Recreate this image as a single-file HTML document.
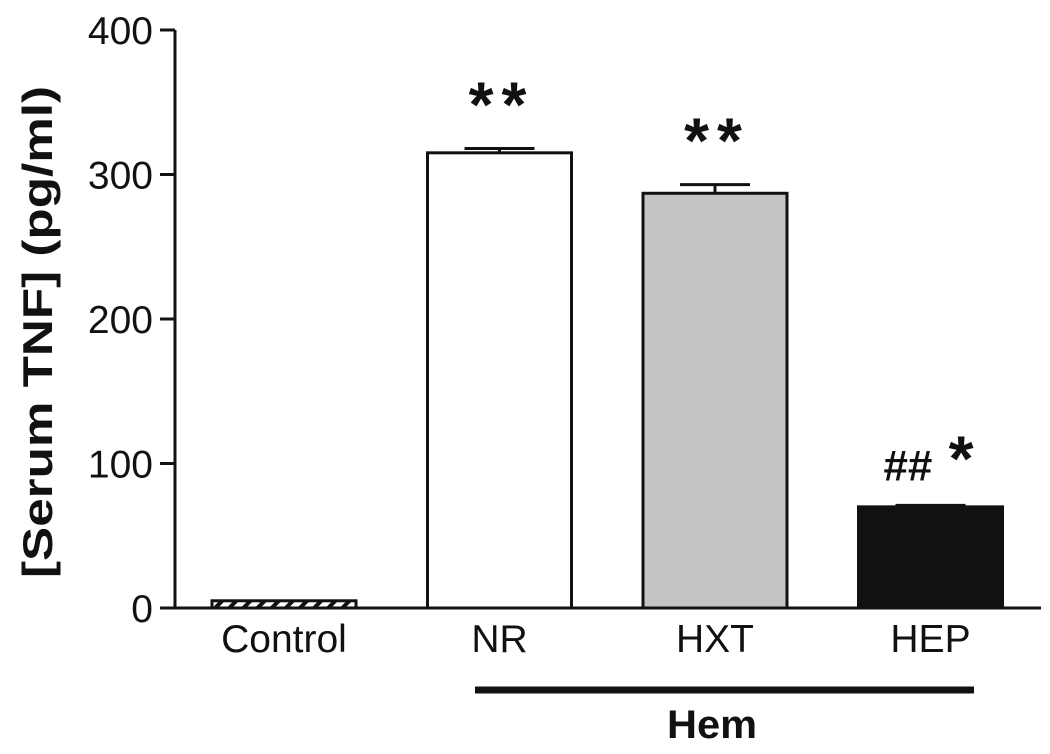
<!DOCTYPE html>
<html><head><meta charset="utf-8"><style>
body{margin:0;background:#fff}
svg{display:block;font-family:"Liberation Sans",Arial,sans-serif}
</style></head><body>
<svg width="1050" height="754" viewBox="0 0 1050 754">
<defs><pattern id="hatch" width="10" height="10" patternUnits="userSpaceOnUse" patternTransform="rotate(45)"><rect width="10" height="10" fill="#fff"/><rect width="4" height="10" fill="#111"/></pattern></defs>
<g id="plot"></g>
<text x="0" y="0" transform="translate(52,332) rotate(-90)" text-anchor="middle" font-size="42" font-weight="bold" fill="#111" textLength="492" lengthAdjust="spacingAndGlyphs">[Serum TNF] (pg/ml)</text>
<line x1="475" y1="690" x2="974" y2="690" stroke="#111" stroke-width="7"/>
<text x="712" y="738" text-anchor="middle" font-size="40" font-weight="bold" fill="#111" textLength="90" lengthAdjust="spacingAndGlyphs">Hem</text>
</svg>
<script>
const categories=["Control","NR","HXT","HEP"];
const values=[5,315,287,70];
const errors=[0,3,6,1];
const annotations=["","**","**","## *"];
const yTicks=[0,100,200,300,400];
const fills=["url(#hatch)","#fff","#c4c4c4","#111"];
const NS="http://www.w3.org/2000/svg";
const g=document.getElementById("plot");
const y0=608,y400=30,xAxis=175;
function y(v){return y0-(v/400)*(y0-y400);}
function xc(i){return 284+i*215.5;}
function mk(t,a){const e=document.createElementNS(NS,t);for(const k in a)e.setAttribute(k,a[k]);g.appendChild(e);return e;}
let e=mk("line",{x1:xAxis,y1:y(400),x2:xAxis,y2:y0+1,stroke:"#111","stroke-width":3});


e=mk("line",{x1:160,y1:y0,x2:1041,y2:y0,stroke:"#111","stroke-width":3});


yTicks.forEach(t=>{
 let l=mk("line",{x1:160,y1:y(t),x2:xAxis,y2:y(t),stroke:"#111","stroke-width":3});
 
 
 let tx=mk("text",{x:153,y:y(t)+14,"text-anchor":"end","font-size":39,fill:"#111"});
 tx.textContent=t;
 
 
});
categories.forEach((c,i)=>{
 const w=144,x=xc(i)-w/2;
 if(errors[i]>0){
  let el=mk("line",{x1:xc(i)-35,y1:y(values[i]+errors[i]),x2:xc(i)+35,y2:y(values[i]+errors[i]),stroke:"#111","stroke-width":3});
  
  
  let ev=mk("line",{x1:xc(i),y1:y(values[i]+errors[i]),x2:xc(i),y2:y(values[i]),stroke:"#111","stroke-width":3});
  
  
 }
 let r=mk("rect",{x:x,y:y(values[i]),width:w,height:y0-y(values[i]),fill:fills[i],stroke:"#111","stroke-width":3});
 
 
 let t=mk("text",{x:xc(i),y:652,"text-anchor":"middle","font-size":39,fill:"#111"});
 t.textContent=c;
 
 
 if(annotations[i]){
  const hash=annotations[i].includes("#");
  let a=mk("text",{x:xc(i)+(hash?-2:2),y:y(values[i]+errors[i])+(hash?-25:-22),"text-anchor":"middle","font-size":hash?44:64,"font-weight":"bold",fill:"#111","letter-spacing":hash?0:8});
  a.textContent=hash?"## ":annotations[i];
  if(hash){const s=document.createElementNS(NS,"tspan");s.setAttribute("font-size","64");s.setAttribute("dx","4");s.textContent="*";a.appendChild(s);}
  
  
 }
});
</script>
</body></html>
